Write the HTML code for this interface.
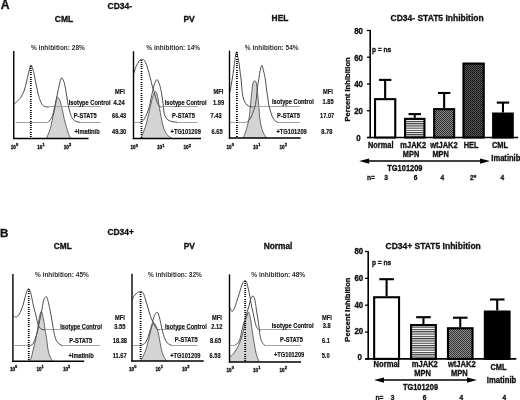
<!DOCTYPE html>
<html><head><meta charset="utf-8"><style>
html,body{margin:0;padding:0;background:#fff;width:520px;height:400px;overflow:hidden}
svg{display:block;filter:grayscale(1)}
text{font-family:"Liberation Sans",sans-serif;font-weight:bold;fill:#111;stroke:#111;stroke-width:0.3px}
.pi{stroke-width:0;fill:#2e2e2e}
.sm{stroke-width:0.15px}
</style></head><body>
<svg width="520" height="400" viewBox="0 0 520 400">
<defs>
<pattern id="hstripe" patternUnits="userSpaceOnUse" width="4" height="2.2"><rect width="4" height="2.2" fill="#fff"/><rect width="4" height="1.1" fill="#3a3a3a"/></pattern>
<pattern id="hstripe2" patternUnits="userSpaceOnUse" width="4" height="2.3"><rect width="4" height="2.3" fill="#fff"/><rect width="4" height="1.15" fill="#3a3a3a"/></pattern>
<pattern id="dots" patternUnits="userSpaceOnUse" width="2" height="2"><rect width="2" height="2" fill="#8c8c8c"/><rect width="1" height="1" fill="#2a2a2a"/><rect x="1" y="1" width="1" height="1" fill="#2a2a2a"/></pattern>
<pattern id="hatch" patternUnits="userSpaceOnUse" width="2" height="2"><rect width="2" height="2" fill="#555"/><rect width="1" height="1" fill="#111"/><rect x="1" y="1" width="1" height="1" fill="#222"/></pattern>
<pattern id="dots2" patternUnits="userSpaceOnUse" width="2" height="2"><rect width="2" height="2" fill="#929292"/><rect width="1" height="1" fill="#303030"/><rect x="1" y="1" width="1" height="1" fill="#303030"/></pattern>
</defs>
<text x="0.80" y="9.30" font-size="12.20">A</text>
<text x="107.50" y="8.70" font-size="8.50">CD34-</text>
<text x="54.80" y="21.70" font-size="8.50">CML</text>
<text x="183.40" y="22.00" font-size="8.60">PV</text>
<text x="271.60" y="21.20" font-size="8.40">HEL</text>
<text x="31.00" y="49.70" font-size="6.50" class="pi">% inhibition: 28%</text>
<text x="146.30" y="49.80" font-size="6.50" class="pi">% inhibition: 14%</text>
<text x="244.80" y="49.70" font-size="6.50" class="pi">% inhibition: 54%</text>
<text x="0.00" y="237.40" font-size="11.60">B</text>
<text x="107.50" y="234.90" font-size="8.40">CD34+</text>
<text x="53.80" y="249.10" font-size="8.30">CML</text>
<text x="183.70" y="249.10" font-size="8.40">PV</text>
<text x="263.70" y="249.10" font-size="8.35">Normal</text>
<text x="35.00" y="276.80" font-size="6.50" class="pi">% inhibition: 45%</text>
<text x="148.00" y="276.90" font-size="6.50" class="pi">% inhibition: 32%</text>
<text x="251.30" y="276.90" font-size="6.50" class="pi">% inhibition: 48%</text>
<path d="M46.50 138.40 C46.98 137.21 48.61 133.48 49.40 131.25 C50.19 129.02 50.63 127.50 51.25 125.00 C51.87 122.50 52.48 119.17 53.10 116.25 C53.73 113.33 54.48 110.12 55.00 107.50 C55.52 104.88 55.77 102.22 56.20 100.50 C56.63 98.78 56.93 97.03 57.60 97.20 C58.27 97.37 59.38 99.24 60.20 101.50 C61.02 103.76 61.80 107.75 62.50 110.75 C63.20 113.75 63.67 116.50 64.40 119.50 C65.13 122.50 66.18 126.27 66.90 128.75 C67.62 131.23 68.10 132.79 68.75 134.40 C69.40 136.01 70.46 137.73 70.80 138.40 L70.80 138.40 L46.50 138.40 Z" stroke="none" stroke-width="0.00" fill="#d4d4d4"/>
<path d="M46.50 138.40 C46.98 137.21 48.61 133.48 49.40 131.25 C50.19 129.02 50.63 127.50 51.25 125.00 C51.87 122.50 52.48 119.17 53.10 116.25 C53.73 113.33 54.48 110.12 55.00 107.50 C55.52 104.88 55.77 102.22 56.20 100.50 C56.63 98.78 56.93 97.03 57.60 97.20 C58.27 97.37 59.38 99.24 60.20 101.50 C61.02 103.76 61.80 107.75 62.50 110.75 C63.20 113.75 63.67 116.50 64.40 119.50 C65.13 122.50 66.18 126.27 66.90 128.75 C67.62 131.23 68.10 132.79 68.75 134.40 C69.40 136.01 70.46 137.73 70.80 138.40" stroke="#444" stroke-width="0.80" fill="none"/>
<path d="M14.40 103.80 C14.90 103.37 16.35 102.25 17.40 101.20 C18.45 100.15 19.53 99.37 20.70 97.50 C21.87 95.63 23.37 92.92 24.40 90.00 C25.43 87.08 26.10 83.25 26.90 80.00 C27.70 76.75 28.52 73.00 29.20 70.50 C29.88 68.00 30.24 64.67 31.00 65.00 C31.76 65.33 32.88 69.17 33.75 72.50 C34.62 75.83 35.42 81.04 36.25 85.00 C37.08 88.96 37.81 93.05 38.75 96.25 C39.69 99.45 40.86 102.48 41.90 104.20 C42.94 105.92 43.98 106.13 45.00 106.60 C46.02 107.07 47.33 106.93 48.00 107.00 C48.67 107.07 48.83 107.00 49.00 107.00" stroke="#4a4a4a" stroke-width="1.00" fill="none"/>
<line x1="49.00" y1="106.50" x2="100.60" y2="106.50" stroke="#a4a4a4" stroke-width="1.00"/>
<line x1="15.60" y1="122.50" x2="48.00" y2="122.50" stroke="#a4a4a4" stroke-width="1.00"/>
<path d="M48.00 122.30 C48.43 121.82 49.85 120.53 50.60 119.40 C51.35 118.27 51.87 117.36 52.50 115.50 C53.13 113.64 53.77 110.92 54.40 108.25 C55.02 105.58 55.63 102.42 56.25 99.50 C56.87 96.58 57.48 93.67 58.10 90.75 C58.73 87.83 59.37 84.16 60.00 82.00 C60.63 79.84 61.17 77.59 61.90 77.80 C62.63 78.01 63.68 80.67 64.40 83.25 C65.12 85.83 65.63 89.71 66.25 93.25 C66.87 96.79 67.47 101.29 68.10 104.50 C68.72 107.71 69.37 110.33 70.00 112.50 C70.63 114.67 71.17 116.15 71.90 117.50 C72.63 118.85 73.47 119.87 74.40 120.60 C75.33 121.33 76.57 121.62 77.50 121.90 C78.43 122.18 79.58 122.23 80.00 122.30" stroke="#4a4a4a" stroke-width="1.00" fill="none"/>
<line x1="80.00" y1="122.50" x2="100.60" y2="122.50" stroke="#a4a4a4" stroke-width="1.00"/>
<rect x="29.90" y="66" width="1.8" height="1" fill="#000"/>
<rect x="29.90" y="68" width="1.8" height="1" fill="#000"/>
<rect x="29.90" y="70" width="1.8" height="1" fill="#000"/>
<rect x="29.90" y="72" width="1.8" height="1" fill="#000"/>
<rect x="29.90" y="74" width="1.8" height="1" fill="#000"/>
<rect x="29.90" y="77" width="1.8" height="1" fill="#000"/>
<rect x="29.90" y="79" width="1.8" height="1" fill="#000"/>
<rect x="29.90" y="81" width="1.8" height="1" fill="#000"/>
<rect x="29.90" y="83" width="1.8" height="1" fill="#000"/>
<rect x="29.90" y="85" width="1.8" height="1" fill="#000"/>
<rect x="29.90" y="88" width="1.8" height="1" fill="#000"/>
<rect x="29.90" y="90" width="1.8" height="1" fill="#000"/>
<rect x="29.90" y="92" width="1.8" height="1" fill="#000"/>
<rect x="29.90" y="94" width="1.8" height="1" fill="#000"/>
<rect x="29.90" y="96" width="1.8" height="1" fill="#000"/>
<rect x="29.90" y="99" width="1.8" height="1" fill="#000"/>
<rect x="29.90" y="101" width="1.8" height="1" fill="#000"/>
<rect x="29.90" y="103" width="1.8" height="1" fill="#000"/>
<rect x="29.90" y="105" width="1.8" height="1" fill="#000"/>
<rect x="29.90" y="107" width="1.8" height="1" fill="#000"/>
<rect x="29.90" y="110" width="1.8" height="1" fill="#000"/>
<rect x="29.90" y="112" width="1.8" height="1" fill="#000"/>
<rect x="29.90" y="114" width="1.8" height="1" fill="#000"/>
<rect x="29.90" y="116" width="1.8" height="1" fill="#000"/>
<rect x="29.90" y="118" width="1.8" height="1" fill="#000"/>
<rect x="29.90" y="121" width="1.8" height="1" fill="#000"/>
<rect x="29.90" y="123" width="1.8" height="1" fill="#000"/>
<rect x="29.90" y="125" width="1.8" height="1" fill="#000"/>
<rect x="29.90" y="127" width="1.8" height="1" fill="#000"/>
<rect x="29.90" y="129" width="1.8" height="1" fill="#000"/>
<rect x="29.90" y="132" width="1.8" height="1" fill="#000"/>
<rect x="29.90" y="134" width="1.8" height="1" fill="#000"/>
<rect x="29.90" y="136" width="1.8" height="1" fill="#000"/>
<line x1="13.75" y1="51.00" x2="13.75" y2="139.10" stroke="#000" stroke-width="1.40"/>
<line x1="13.05" y1="138.40" x2="88.60" y2="138.40" stroke="#000" stroke-width="1.50"/>
<text x="10.75" y="149.10" font-size="4.60">10</text>
<text x="15.95" y="146.40" font-size="4.00">0</text>
<text x="37.25" y="149.10" font-size="4.60">10</text>
<text x="42.45" y="146.40" font-size="4.00">1</text>
<text x="63.75" y="149.10" font-size="4.60">10</text>
<text x="68.95" y="146.40" font-size="4.00">2</text>
<path d="M140.60 138.50 C141.12 137.29 142.81 133.71 143.75 131.25 C144.69 128.79 145.42 126.67 146.25 123.75 C147.08 120.83 147.92 117.29 148.75 113.75 C149.58 110.21 150.50 105.54 151.25 102.50 C152.00 99.46 152.54 97.33 153.25 95.50 C153.96 93.67 154.78 91.33 155.50 91.50 C156.22 91.67 156.95 93.83 157.60 96.50 C158.25 99.17 158.79 104.00 159.40 107.50 C160.01 111.00 160.63 114.38 161.25 117.50 C161.87 120.62 162.38 123.75 163.10 126.25 C163.82 128.75 164.66 130.83 165.60 132.50 C166.54 134.17 167.60 135.25 168.75 136.25 C169.90 137.25 171.88 138.12 172.50 138.50 L172.50 138.50 L140.60 138.50 Z" stroke="none" stroke-width="0.00" fill="#d4d4d4"/>
<path d="M140.60 138.50 C141.12 137.29 142.81 133.71 143.75 131.25 C144.69 128.79 145.42 126.67 146.25 123.75 C147.08 120.83 147.92 117.29 148.75 113.75 C149.58 110.21 150.50 105.54 151.25 102.50 C152.00 99.46 152.54 97.33 153.25 95.50 C153.96 93.67 154.78 91.33 155.50 91.50 C156.22 91.67 156.95 93.83 157.60 96.50 C158.25 99.17 158.79 104.00 159.40 107.50 C160.01 111.00 160.63 114.38 161.25 117.50 C161.87 120.62 162.38 123.75 163.10 126.25 C163.82 128.75 164.66 130.83 165.60 132.50 C166.54 134.17 167.60 135.25 168.75 136.25 C169.90 137.25 171.88 138.12 172.50 138.50" stroke="#444" stroke-width="0.80" fill="none"/>
<path d="M134.20 73.10 C134.35 72.38 134.53 70.31 135.10 68.75 C135.67 67.19 136.77 65.21 137.60 63.75 C138.43 62.29 139.32 60.76 140.10 60.00 C140.88 59.24 141.52 59.10 142.25 59.20 C142.98 59.30 143.71 59.43 144.50 60.60 C145.29 61.77 146.17 63.85 147.00 66.25 C147.83 68.65 148.67 71.88 149.50 75.00 C150.33 78.12 151.27 82.29 152.00 85.00 C152.73 87.71 153.30 89.17 153.90 91.25 C154.50 93.33 155.08 95.74 155.60 97.50 C156.12 99.26 156.55 100.58 157.00 101.80 C157.45 103.02 157.87 104.03 158.30 104.80 C158.73 105.57 159.15 106.05 159.60 106.40 C160.05 106.75 160.60 106.82 161.00 106.90 C161.40 106.98 161.83 106.90 162.00 106.90" stroke="#4a4a4a" stroke-width="1.00" fill="none"/>
<line x1="162.00" y1="106.50" x2="197.50" y2="106.50" stroke="#a4a4a4" stroke-width="1.00"/>
<line x1="134.40" y1="122.50" x2="141.25" y2="122.50" stroke="#a4a4a4" stroke-width="1.00"/>
<path d="M141.25 122.20 C141.78 121.62 143.46 120.16 144.40 118.75 C145.34 117.34 146.07 115.83 146.90 113.75 C147.73 111.67 148.76 108.54 149.40 106.25 C150.04 103.96 150.22 102.50 150.75 100.00 C151.28 97.50 151.97 93.96 152.60 91.25 C153.22 88.54 153.77 85.69 154.50 83.75 C155.23 81.81 156.17 79.49 157.00 79.60 C157.83 79.71 158.77 82.25 159.50 84.40 C160.23 86.55 160.88 89.90 161.40 92.50 C161.92 95.10 162.25 97.50 162.60 100.00 C162.95 102.50 163.23 105.25 163.50 107.50 C163.77 109.75 163.73 111.70 164.20 113.50 C164.67 115.30 165.28 117.02 166.30 118.30 C167.32 119.58 168.52 120.55 170.30 121.20 C172.08 121.85 175.88 122.03 177.00 122.20" stroke="#4a4a4a" stroke-width="1.00" fill="none"/>
<line x1="177.00" y1="122.50" x2="197.50" y2="122.50" stroke="#a4a4a4" stroke-width="1.00"/>
<rect x="140.60" y="60" width="1.8" height="1" fill="#000"/>
<rect x="140.60" y="62" width="1.8" height="1" fill="#000"/>
<rect x="140.60" y="64" width="1.8" height="1" fill="#000"/>
<rect x="140.60" y="66" width="1.8" height="1" fill="#000"/>
<rect x="140.60" y="68" width="1.8" height="1" fill="#000"/>
<rect x="140.60" y="71" width="1.8" height="1" fill="#000"/>
<rect x="140.60" y="73" width="1.8" height="1" fill="#000"/>
<rect x="140.60" y="75" width="1.8" height="1" fill="#000"/>
<rect x="140.60" y="77" width="1.8" height="1" fill="#000"/>
<rect x="140.60" y="79" width="1.8" height="1" fill="#000"/>
<rect x="140.60" y="82" width="1.8" height="1" fill="#000"/>
<rect x="140.60" y="84" width="1.8" height="1" fill="#000"/>
<rect x="140.60" y="86" width="1.8" height="1" fill="#000"/>
<rect x="140.60" y="88" width="1.8" height="1" fill="#000"/>
<rect x="140.60" y="90" width="1.8" height="1" fill="#000"/>
<rect x="140.60" y="93" width="1.8" height="1" fill="#000"/>
<rect x="140.60" y="95" width="1.8" height="1" fill="#000"/>
<rect x="140.60" y="97" width="1.8" height="1" fill="#000"/>
<rect x="140.60" y="99" width="1.8" height="1" fill="#000"/>
<rect x="140.60" y="101" width="1.8" height="1" fill="#000"/>
<rect x="140.60" y="104" width="1.8" height="1" fill="#000"/>
<rect x="140.60" y="106" width="1.8" height="1" fill="#000"/>
<rect x="140.60" y="108" width="1.8" height="1" fill="#000"/>
<rect x="140.60" y="110" width="1.8" height="1" fill="#000"/>
<rect x="140.60" y="112" width="1.8" height="1" fill="#000"/>
<rect x="140.60" y="115" width="1.8" height="1" fill="#000"/>
<rect x="140.60" y="117" width="1.8" height="1" fill="#000"/>
<rect x="140.60" y="119" width="1.8" height="1" fill="#000"/>
<rect x="140.60" y="121" width="1.8" height="1" fill="#000"/>
<rect x="140.60" y="123" width="1.8" height="1" fill="#000"/>
<rect x="140.60" y="126" width="1.8" height="1" fill="#000"/>
<rect x="140.60" y="128" width="1.8" height="1" fill="#000"/>
<rect x="140.60" y="130" width="1.8" height="1" fill="#000"/>
<rect x="140.60" y="132" width="1.8" height="1" fill="#000"/>
<rect x="140.60" y="134" width="1.8" height="1" fill="#000"/>
<rect x="140.60" y="137" width="1.8" height="1" fill="#000"/>
<line x1="133.50" y1="51.25" x2="133.50" y2="139.20" stroke="#000" stroke-width="1.40"/>
<line x1="132.80" y1="138.50" x2="201.00" y2="138.50" stroke="#000" stroke-width="1.50"/>
<text x="130.50" y="149.20" font-size="4.60">10</text>
<text x="135.70" y="146.50" font-size="4.00">0</text>
<text x="157.00" y="149.20" font-size="4.60">10</text>
<text x="162.20" y="146.50" font-size="4.00">1</text>
<text x="183.50" y="149.20" font-size="4.60">10</text>
<text x="188.70" y="146.50" font-size="4.00">2</text>
<path d="M243.10 138.10 C243.50 137.08 244.78 134.06 245.50 132.00 C246.22 129.94 246.78 128.25 247.40 125.75 C248.03 123.25 248.73 120.46 249.25 117.00 C249.77 113.54 250.17 108.25 250.50 105.00 C250.83 101.75 251.00 100.00 251.25 97.50 C251.50 95.00 251.78 92.08 252.00 90.00 C252.22 87.92 252.38 86.33 252.60 85.00 C252.82 83.67 252.97 82.70 253.30 82.00 C253.63 81.30 254.15 80.80 254.60 80.80 C255.05 80.80 255.65 81.30 256.00 82.00 C256.35 82.70 256.49 83.67 256.70 85.00 C256.91 86.33 257.03 87.92 257.25 90.00 C257.47 92.08 257.73 94.67 258.00 97.50 C258.27 100.33 258.63 103.75 258.90 107.00 C259.17 110.25 259.23 113.88 259.60 117.00 C259.97 120.12 260.53 123.25 261.10 125.75 C261.67 128.25 262.37 130.33 263.00 132.00 C263.63 133.67 264.35 134.73 264.90 135.75 C265.45 136.77 266.07 137.71 266.30 138.10 L266.30 138.10 L243.10 138.10 Z" stroke="none" stroke-width="0.00" fill="#d4d4d4"/>
<path d="M243.10 138.10 C243.50 137.08 244.78 134.06 245.50 132.00 C246.22 129.94 246.78 128.25 247.40 125.75 C248.03 123.25 248.73 120.46 249.25 117.00 C249.77 113.54 250.17 108.25 250.50 105.00 C250.83 101.75 251.00 100.00 251.25 97.50 C251.50 95.00 251.78 92.08 252.00 90.00 C252.22 87.92 252.38 86.33 252.60 85.00 C252.82 83.67 252.97 82.70 253.30 82.00 C253.63 81.30 254.15 80.80 254.60 80.80 C255.05 80.80 255.65 81.30 256.00 82.00 C256.35 82.70 256.49 83.67 256.70 85.00 C256.91 86.33 257.03 87.92 257.25 90.00 C257.47 92.08 257.73 94.67 258.00 97.50 C258.27 100.33 258.63 103.75 258.90 107.00 C259.17 110.25 259.23 113.88 259.60 117.00 C259.97 120.12 260.53 123.25 261.10 125.75 C261.67 128.25 262.37 130.33 263.00 132.00 C263.63 133.67 264.35 134.73 264.90 135.75 C265.45 136.77 266.07 137.71 266.30 138.10" stroke="#444" stroke-width="0.80" fill="none"/>
<path d="M230.25 91.75 C230.39 90.71 230.74 87.79 231.10 85.50 C231.46 83.21 232.07 80.02 232.40 78.00 C232.73 75.98 232.82 75.40 233.10 73.40 C233.38 71.40 233.82 68.12 234.10 66.00 C234.38 63.88 234.55 62.53 234.80 60.70 C235.05 58.87 235.32 56.52 235.60 55.00 C235.88 53.48 236.20 51.60 236.50 51.60 C236.80 51.60 237.05 53.48 237.40 55.00 C237.75 56.52 238.27 58.87 238.60 60.70 C238.93 62.53 239.12 63.88 239.40 66.00 C239.68 68.12 240.00 71.07 240.30 73.40 C240.60 75.73 240.96 77.78 241.20 80.00 C241.44 82.22 241.55 84.46 241.75 86.75 C241.95 89.04 242.09 91.71 242.40 93.75 C242.71 95.79 243.17 97.54 243.60 99.00 C244.03 100.46 244.43 101.50 245.00 102.50 C245.57 103.50 246.18 104.32 247.00 105.00 C247.82 105.68 249.07 106.27 249.90 106.60 C250.73 106.93 251.48 106.93 252.00 107.00 C252.52 107.07 252.83 107.00 253.00 107.00" stroke="#4a4a4a" stroke-width="1.00" fill="none"/>
<line x1="253.00" y1="106.50" x2="300.30" y2="106.50" stroke="#a4a4a4" stroke-width="1.00"/>
<line x1="230.50" y1="122.50" x2="246.75" y2="122.50" stroke="#a4a4a4" stroke-width="1.00"/>
<path d="M246.75 122.25 C247.17 121.89 248.42 121.18 249.25 120.10 C250.08 119.02 251.03 117.31 251.75 115.75 C252.47 114.19 252.97 112.62 253.60 110.75 C254.22 108.88 255.00 106.96 255.50 104.50 C256.00 102.04 256.25 99.04 256.60 96.00 C256.95 92.96 257.22 89.17 257.60 86.25 C257.98 83.33 258.48 81.08 258.90 78.50 C259.32 75.92 259.62 72.97 260.10 70.80 C260.58 68.63 261.23 65.50 261.80 65.50 C262.37 65.50 262.93 68.63 263.50 70.80 C264.07 72.97 264.68 75.30 265.20 78.50 C265.72 81.70 266.18 86.83 266.60 90.00 C267.03 93.17 267.42 95.17 267.75 97.50 C268.08 99.83 268.29 102.25 268.60 104.00 C268.91 105.75 269.16 106.38 269.60 108.00 C270.04 109.62 270.56 111.85 271.25 113.75 C271.94 115.65 272.71 117.98 273.75 119.40 C274.79 120.82 276.62 121.78 277.50 122.25 C278.38 122.72 278.75 122.25 279.00 122.25" stroke="#4a4a4a" stroke-width="1.00" fill="none"/>
<line x1="279.00" y1="122.50" x2="300.30" y2="122.50" stroke="#a4a4a4" stroke-width="1.00"/>
<rect x="236.00" y="52" width="1.8" height="1" fill="#000"/>
<rect x="236.00" y="54" width="1.8" height="1" fill="#000"/>
<rect x="236.00" y="56" width="1.8" height="1" fill="#000"/>
<rect x="236.00" y="59" width="1.8" height="1" fill="#000"/>
<rect x="236.00" y="61" width="1.8" height="1" fill="#000"/>
<rect x="236.00" y="63" width="1.8" height="1" fill="#000"/>
<rect x="236.00" y="65" width="1.8" height="1" fill="#000"/>
<rect x="236.00" y="67" width="1.8" height="1" fill="#000"/>
<rect x="236.00" y="70" width="1.8" height="1" fill="#000"/>
<rect x="236.00" y="72" width="1.8" height="1" fill="#000"/>
<rect x="236.00" y="74" width="1.8" height="1" fill="#000"/>
<rect x="236.00" y="76" width="1.8" height="1" fill="#000"/>
<rect x="236.00" y="78" width="1.8" height="1" fill="#000"/>
<rect x="236.00" y="81" width="1.8" height="1" fill="#000"/>
<rect x="236.00" y="83" width="1.8" height="1" fill="#000"/>
<rect x="236.00" y="85" width="1.8" height="1" fill="#000"/>
<rect x="236.00" y="87" width="1.8" height="1" fill="#000"/>
<rect x="236.00" y="89" width="1.8" height="1" fill="#000"/>
<rect x="236.00" y="92" width="1.8" height="1" fill="#000"/>
<rect x="236.00" y="94" width="1.8" height="1" fill="#000"/>
<rect x="236.00" y="96" width="1.8" height="1" fill="#000"/>
<rect x="236.00" y="98" width="1.8" height="1" fill="#000"/>
<rect x="236.00" y="100" width="1.8" height="1" fill="#000"/>
<rect x="236.00" y="103" width="1.8" height="1" fill="#000"/>
<rect x="236.00" y="105" width="1.8" height="1" fill="#000"/>
<rect x="236.00" y="107" width="1.8" height="1" fill="#000"/>
<rect x="236.00" y="109" width="1.8" height="1" fill="#000"/>
<rect x="236.00" y="111" width="1.8" height="1" fill="#000"/>
<rect x="236.00" y="114" width="1.8" height="1" fill="#000"/>
<rect x="236.00" y="116" width="1.8" height="1" fill="#000"/>
<rect x="236.00" y="118" width="1.8" height="1" fill="#000"/>
<rect x="236.00" y="120" width="1.8" height="1" fill="#000"/>
<rect x="236.00" y="122" width="1.8" height="1" fill="#000"/>
<rect x="236.00" y="125" width="1.8" height="1" fill="#000"/>
<rect x="236.00" y="127" width="1.8" height="1" fill="#000"/>
<rect x="236.00" y="129" width="1.8" height="1" fill="#000"/>
<rect x="236.00" y="131" width="1.8" height="1" fill="#000"/>
<rect x="236.00" y="133" width="1.8" height="1" fill="#000"/>
<rect x="236.00" y="136" width="1.8" height="1" fill="#000"/>
<line x1="229.50" y1="50.60" x2="229.50" y2="138.80" stroke="#000" stroke-width="1.40"/>
<line x1="228.80" y1="138.10" x2="300.60" y2="138.10" stroke="#000" stroke-width="1.50"/>
<text x="226.50" y="148.80" font-size="4.60">10</text>
<text x="231.70" y="146.10" font-size="4.00">0</text>
<text x="253.00" y="148.80" font-size="4.60">10</text>
<text x="258.20" y="146.10" font-size="4.00">1</text>
<text x="279.50" y="148.80" font-size="4.60">10</text>
<text x="284.70" y="146.10" font-size="4.00">2</text>
<path d="M29.00 361.30 C29.42 360.58 30.82 358.88 31.50 357.00 C32.18 355.12 32.52 352.50 33.10 350.00 C33.68 347.50 34.43 344.50 35.00 342.00 C35.57 339.50 36.08 337.00 36.50 335.00 C36.92 333.00 37.15 332.17 37.50 330.00 C37.85 327.83 38.23 324.33 38.60 322.00 C38.97 319.67 39.26 317.77 39.70 316.00 C40.14 314.23 40.73 311.40 41.25 311.40 C41.77 311.40 42.34 314.23 42.80 316.00 C43.26 317.77 43.63 319.83 44.00 322.00 C44.37 324.17 44.70 327.00 45.00 329.00 C45.30 331.00 45.50 332.17 45.80 334.00 C46.10 335.83 46.42 337.33 46.80 340.00 C47.18 342.67 47.57 347.25 48.10 350.00 C48.63 352.75 49.23 354.62 50.00 356.50 C50.77 358.38 52.25 360.50 52.70 361.30 L52.70 361.30 L29.00 361.30 Z" stroke="none" stroke-width="0.00" fill="#d4d4d4"/>
<path d="M29.00 361.30 C29.42 360.58 30.82 358.88 31.50 357.00 C32.18 355.12 32.52 352.50 33.10 350.00 C33.68 347.50 34.43 344.50 35.00 342.00 C35.57 339.50 36.08 337.00 36.50 335.00 C36.92 333.00 37.15 332.17 37.50 330.00 C37.85 327.83 38.23 324.33 38.60 322.00 C38.97 319.67 39.26 317.77 39.70 316.00 C40.14 314.23 40.73 311.40 41.25 311.40 C41.77 311.40 42.34 314.23 42.80 316.00 C43.26 317.77 43.63 319.83 44.00 322.00 C44.37 324.17 44.70 327.00 45.00 329.00 C45.30 331.00 45.50 332.17 45.80 334.00 C46.10 335.83 46.42 337.33 46.80 340.00 C47.18 342.67 47.57 347.25 48.10 350.00 C48.63 352.75 49.23 354.62 50.00 356.50 C50.77 358.38 52.25 360.50 52.70 361.30" stroke="#444" stroke-width="0.80" fill="none"/>
<path d="M13.60 315.60 C13.93 315.87 14.74 317.30 15.60 317.20 C16.46 317.10 17.81 316.20 18.75 315.00 C19.69 313.80 20.52 311.67 21.25 310.00 C21.98 308.33 22.48 307.08 23.10 305.00 C23.73 302.92 24.37 299.79 25.00 297.50 C25.63 295.21 26.32 292.70 26.90 291.25 C27.48 289.80 27.88 288.59 28.50 288.80 C29.12 289.01 29.93 290.43 30.60 292.50 C31.27 294.57 31.87 298.33 32.50 301.25 C33.13 304.17 33.88 307.88 34.40 310.00 C34.92 312.12 35.08 311.92 35.60 314.00 C36.12 316.08 36.87 320.30 37.50 322.50 C38.13 324.70 38.67 326.05 39.40 327.20 C40.13 328.35 41.13 328.97 41.90 329.40 C42.67 329.82 43.48 329.69 44.00 329.75 C44.52 329.81 44.83 329.75 45.00 329.75" stroke="#4a4a4a" stroke-width="1.00" fill="none"/>
<line x1="45.00" y1="329.50" x2="100.00" y2="329.50" stroke="#a4a4a4" stroke-width="1.00"/>
<line x1="14.00" y1="345.50" x2="30.20" y2="345.50" stroke="#a4a4a4" stroke-width="1.00"/>
<path d="M30.20 345.50 C30.58 345.32 31.80 345.22 32.50 344.40 C33.20 343.58 33.67 342.38 34.40 340.60 C35.13 338.83 36.17 336.35 36.90 333.75 C37.62 331.15 38.13 327.92 38.75 325.00 C39.37 322.08 39.98 319.38 40.60 316.25 C41.23 313.12 41.98 308.96 42.50 306.25 C43.02 303.54 43.12 301.61 43.75 300.00 C44.38 298.39 45.52 296.39 46.25 296.60 C46.98 296.81 47.48 299.02 48.10 301.25 C48.73 303.48 49.37 306.88 50.00 310.00 C50.63 313.12 51.27 316.46 51.90 320.00 C52.52 323.54 53.13 328.12 53.75 331.25 C54.37 334.38 54.88 336.77 55.60 338.75 C56.33 340.73 57.16 342.03 58.10 343.10 C59.04 344.18 60.43 344.80 61.25 345.20 C62.07 345.60 62.71 345.45 63.00 345.50" stroke="#4a4a4a" stroke-width="1.00" fill="none"/>
<line x1="63.00" y1="345.50" x2="100.00" y2="345.50" stroke="#a4a4a4" stroke-width="1.00"/>
<rect x="27.85" y="289" width="1.8" height="1" fill="#000"/>
<rect x="27.85" y="291" width="1.8" height="1" fill="#000"/>
<rect x="27.85" y="293" width="1.8" height="1" fill="#000"/>
<rect x="27.85" y="296" width="1.8" height="1" fill="#000"/>
<rect x="27.85" y="298" width="1.8" height="1" fill="#000"/>
<rect x="27.85" y="300" width="1.8" height="1" fill="#000"/>
<rect x="27.85" y="302" width="1.8" height="1" fill="#000"/>
<rect x="27.85" y="304" width="1.8" height="1" fill="#000"/>
<rect x="27.85" y="307" width="1.8" height="1" fill="#000"/>
<rect x="27.85" y="309" width="1.8" height="1" fill="#000"/>
<rect x="27.85" y="311" width="1.8" height="1" fill="#000"/>
<rect x="27.85" y="313" width="1.8" height="1" fill="#000"/>
<rect x="27.85" y="315" width="1.8" height="1" fill="#000"/>
<rect x="27.85" y="318" width="1.8" height="1" fill="#000"/>
<rect x="27.85" y="320" width="1.8" height="1" fill="#000"/>
<rect x="27.85" y="322" width="1.8" height="1" fill="#000"/>
<rect x="27.85" y="324" width="1.8" height="1" fill="#000"/>
<rect x="27.85" y="326" width="1.8" height="1" fill="#000"/>
<rect x="27.85" y="329" width="1.8" height="1" fill="#000"/>
<rect x="27.85" y="331" width="1.8" height="1" fill="#000"/>
<rect x="27.85" y="333" width="1.8" height="1" fill="#000"/>
<rect x="27.85" y="335" width="1.8" height="1" fill="#000"/>
<rect x="27.85" y="337" width="1.8" height="1" fill="#000"/>
<rect x="27.85" y="340" width="1.8" height="1" fill="#000"/>
<rect x="27.85" y="342" width="1.8" height="1" fill="#000"/>
<rect x="27.85" y="344" width="1.8" height="1" fill="#000"/>
<rect x="27.85" y="346" width="1.8" height="1" fill="#000"/>
<rect x="27.85" y="348" width="1.8" height="1" fill="#000"/>
<rect x="27.85" y="351" width="1.8" height="1" fill="#000"/>
<rect x="27.85" y="353" width="1.8" height="1" fill="#000"/>
<rect x="27.85" y="355" width="1.8" height="1" fill="#000"/>
<rect x="27.85" y="357" width="1.8" height="1" fill="#000"/>
<rect x="27.85" y="359" width="1.8" height="1" fill="#000"/>
<line x1="12.90" y1="274.00" x2="12.90" y2="362.00" stroke="#000" stroke-width="1.40"/>
<line x1="12.20" y1="361.30" x2="84.20" y2="361.30" stroke="#000" stroke-width="1.50"/>
<text x="9.90" y="371.30" font-size="4.60">10</text>
<text x="15.10" y="368.30" font-size="4.00">0</text>
<text x="36.40" y="371.30" font-size="4.60">10</text>
<text x="41.60" y="368.30" font-size="4.00">1</text>
<text x="62.90" y="371.30" font-size="4.60">10</text>
<text x="68.10" y="368.30" font-size="4.00">2</text>
<path d="M140.60 360.90 C141.12 359.92 142.81 357.02 143.75 355.00 C144.69 352.98 145.53 350.93 146.25 348.75 C146.97 346.57 147.47 344.40 148.10 341.90 C148.72 339.40 149.37 336.36 150.00 333.75 C150.63 331.14 151.28 328.02 151.90 326.25 C152.53 324.48 153.13 323.31 153.75 323.10 C154.37 322.89 154.97 323.85 155.60 325.00 C156.22 326.15 156.87 327.71 157.50 330.00 C158.13 332.29 158.78 335.62 159.40 338.75 C160.03 341.88 160.63 346.04 161.25 348.75 C161.87 351.46 162.38 353.23 163.10 355.00 C163.82 356.77 164.98 358.42 165.60 359.40 C166.22 360.38 166.60 360.65 166.80 360.90 L166.80 360.90 L140.60 360.90 Z" stroke="none" stroke-width="0.00" fill="#d4d4d4"/>
<path d="M140.60 360.90 C141.12 359.92 142.81 357.02 143.75 355.00 C144.69 352.98 145.53 350.93 146.25 348.75 C146.97 346.57 147.47 344.40 148.10 341.90 C148.72 339.40 149.37 336.36 150.00 333.75 C150.63 331.14 151.28 328.02 151.90 326.25 C152.53 324.48 153.13 323.31 153.75 323.10 C154.37 322.89 154.97 323.85 155.60 325.00 C156.22 326.15 156.87 327.71 157.50 330.00 C158.13 332.29 158.78 335.62 159.40 338.75 C160.03 341.88 160.63 346.04 161.25 348.75 C161.87 351.46 162.38 353.23 163.10 355.00 C163.82 356.77 164.98 358.42 165.60 359.40 C166.22 360.38 166.60 360.65 166.80 360.90" stroke="#444" stroke-width="0.80" fill="none"/>
<path d="M132.60 299.40 C132.79 298.88 133.14 297.19 133.75 296.25 C134.36 295.31 135.42 294.48 136.25 293.75 C137.08 293.02 138.03 292.26 138.75 291.90 C139.47 291.54 139.92 291.50 140.60 291.60 C141.28 291.70 142.13 291.68 142.80 292.50 C143.47 293.32 144.03 294.92 144.60 296.50 C145.17 298.08 145.63 300.08 146.20 302.00 C146.77 303.92 147.40 306.00 148.00 308.00 C148.60 310.00 149.20 312.17 149.80 314.00 C150.40 315.83 151.00 317.50 151.60 319.00 C152.20 320.50 152.73 321.58 153.40 323.00 C154.07 324.42 154.92 326.42 155.60 327.50 C156.28 328.58 156.93 329.12 157.50 329.50 C158.07 329.88 158.58 329.71 159.00 329.75 C159.42 329.79 159.83 329.75 160.00 329.75" stroke="#4a4a4a" stroke-width="1.00" fill="none"/>
<line x1="160.00" y1="329.50" x2="197.50" y2="329.50" stroke="#a4a4a4" stroke-width="1.00"/>
<line x1="132.80" y1="345.50" x2="140.60" y2="345.50" stroke="#a4a4a4" stroke-width="1.00"/>
<path d="M140.60 345.20 C141.23 344.96 143.35 344.62 144.40 343.75 C145.45 342.88 146.18 341.46 146.90 340.00 C147.62 338.54 148.13 336.88 148.75 335.00 C149.37 333.12 149.97 330.83 150.60 328.75 C151.22 326.67 151.97 324.38 152.50 322.50 C153.03 320.62 153.33 318.83 153.75 317.50 C154.17 316.17 154.47 315.38 155.00 314.50 C155.53 313.62 156.28 312.12 156.90 312.20 C157.53 312.28 158.13 313.28 158.75 315.00 C159.37 316.72 159.97 319.79 160.60 322.50 C161.22 325.21 161.87 328.75 162.50 331.25 C163.13 333.75 163.67 335.62 164.40 337.50 C165.13 339.38 165.87 341.25 166.90 342.50 C167.93 343.75 169.75 344.55 170.60 345.00 C171.45 345.45 171.77 345.17 172.00 345.20" stroke="#4a4a4a" stroke-width="1.00" fill="none"/>
<line x1="172.00" y1="345.50" x2="197.50" y2="345.50" stroke="#a4a4a4" stroke-width="1.00"/>
<rect x="139.70" y="292" width="1.8" height="1" fill="#000"/>
<rect x="139.70" y="294" width="1.8" height="1" fill="#000"/>
<rect x="139.70" y="296" width="1.8" height="1" fill="#000"/>
<rect x="139.70" y="299" width="1.8" height="1" fill="#000"/>
<rect x="139.70" y="301" width="1.8" height="1" fill="#000"/>
<rect x="139.70" y="303" width="1.8" height="1" fill="#000"/>
<rect x="139.70" y="305" width="1.8" height="1" fill="#000"/>
<rect x="139.70" y="307" width="1.8" height="1" fill="#000"/>
<rect x="139.70" y="310" width="1.8" height="1" fill="#000"/>
<rect x="139.70" y="312" width="1.8" height="1" fill="#000"/>
<rect x="139.70" y="314" width="1.8" height="1" fill="#000"/>
<rect x="139.70" y="316" width="1.8" height="1" fill="#000"/>
<rect x="139.70" y="318" width="1.8" height="1" fill="#000"/>
<rect x="139.70" y="321" width="1.8" height="1" fill="#000"/>
<rect x="139.70" y="323" width="1.8" height="1" fill="#000"/>
<rect x="139.70" y="325" width="1.8" height="1" fill="#000"/>
<rect x="139.70" y="327" width="1.8" height="1" fill="#000"/>
<rect x="139.70" y="329" width="1.8" height="1" fill="#000"/>
<rect x="139.70" y="332" width="1.8" height="1" fill="#000"/>
<rect x="139.70" y="334" width="1.8" height="1" fill="#000"/>
<rect x="139.70" y="336" width="1.8" height="1" fill="#000"/>
<rect x="139.70" y="338" width="1.8" height="1" fill="#000"/>
<rect x="139.70" y="340" width="1.8" height="1" fill="#000"/>
<rect x="139.70" y="343" width="1.8" height="1" fill="#000"/>
<rect x="139.70" y="345" width="1.8" height="1" fill="#000"/>
<rect x="139.70" y="347" width="1.8" height="1" fill="#000"/>
<rect x="139.70" y="349" width="1.8" height="1" fill="#000"/>
<rect x="139.70" y="351" width="1.8" height="1" fill="#000"/>
<rect x="139.70" y="354" width="1.8" height="1" fill="#000"/>
<rect x="139.70" y="356" width="1.8" height="1" fill="#000"/>
<rect x="139.70" y="358" width="1.8" height="1" fill="#000"/>
<line x1="132.00" y1="273.75" x2="132.00" y2="361.60" stroke="#000" stroke-width="1.40"/>
<line x1="131.30" y1="360.90" x2="203.75" y2="360.90" stroke="#000" stroke-width="1.50"/>
<text x="129.00" y="370.90" font-size="4.60">10</text>
<text x="134.20" y="367.90" font-size="4.00">0</text>
<text x="155.50" y="370.90" font-size="4.60">10</text>
<text x="160.70" y="367.90" font-size="4.00">1</text>
<text x="182.00" y="370.90" font-size="4.60">10</text>
<text x="187.20" y="367.90" font-size="4.00">2</text>
<path d="M229.80 356.50 C230.17 356.33 231.30 356.08 232.00 355.50 C232.70 354.92 233.33 353.92 234.00 353.00 C234.67 352.08 235.33 351.08 236.00 350.00 C236.67 348.92 237.33 347.83 238.00 346.50 C238.67 345.17 239.33 343.75 240.00 342.00 C240.67 340.25 241.42 338.00 242.00 336.00 C242.58 334.00 243.00 332.25 243.50 330.00 C244.00 327.75 244.46 324.79 245.00 322.50 C245.54 320.21 246.15 317.97 246.75 316.25 C247.35 314.53 247.97 311.78 248.60 312.20 C249.22 312.62 249.97 316.20 250.50 318.75 C251.03 321.30 251.33 324.62 251.75 327.50 C252.17 330.38 252.54 333.08 253.00 336.00 C253.46 338.92 254.00 342.17 254.50 345.00 C255.00 347.83 255.42 350.67 256.00 353.00 C256.58 355.33 257.42 357.52 258.00 359.00 C258.58 360.48 259.25 361.42 259.50 361.90 L259.50 361.90 L229.80 361.90 Z" stroke="none" stroke-width="0.00" fill="#d4d4d4"/>
<path d="M229.80 356.50 C230.17 356.33 231.30 356.08 232.00 355.50 C232.70 354.92 233.33 353.92 234.00 353.00 C234.67 352.08 235.33 351.08 236.00 350.00 C236.67 348.92 237.33 347.83 238.00 346.50 C238.67 345.17 239.33 343.75 240.00 342.00 C240.67 340.25 241.42 338.00 242.00 336.00 C242.58 334.00 243.00 332.25 243.50 330.00 C244.00 327.75 244.46 324.79 245.00 322.50 C245.54 320.21 246.15 317.97 246.75 316.25 C247.35 314.53 247.97 311.78 248.60 312.20 C249.22 312.62 249.97 316.20 250.50 318.75 C251.03 321.30 251.33 324.62 251.75 327.50 C252.17 330.38 252.54 333.08 253.00 336.00 C253.46 338.92 254.00 342.17 254.50 345.00 C255.00 347.83 255.42 350.67 256.00 353.00 C256.58 355.33 257.42 357.52 258.00 359.00 C258.58 360.48 259.25 361.42 259.50 361.90" stroke="#444" stroke-width="0.80" fill="none"/>
<path d="M230.10 307.80 C230.38 308.38 231.06 311.14 231.75 311.30 C232.44 311.46 233.42 310.43 234.25 308.75 C235.08 307.07 235.92 303.75 236.75 301.25 C237.58 298.75 238.53 296.04 239.25 293.75 C239.97 291.46 240.47 289.38 241.10 287.50 C241.72 285.62 242.37 283.67 243.00 282.50 C243.63 281.33 244.28 280.50 244.90 280.50 C245.53 280.50 246.19 281.12 246.75 282.50 C247.31 283.88 247.72 286.46 248.25 288.75 C248.78 291.04 249.43 293.75 249.90 296.25 C250.38 298.75 250.58 301.04 251.10 303.75 C251.62 306.46 252.37 309.58 253.00 312.50 C253.63 315.42 254.28 318.75 254.90 321.25 C255.53 323.75 256.02 326.08 256.75 327.50 C257.48 328.92 258.54 329.38 259.25 329.75 C259.96 330.12 260.71 329.75 261.00 329.75" stroke="#4a4a4a" stroke-width="1.00" fill="none"/>
<line x1="261.00" y1="329.50" x2="301.00" y2="329.50" stroke="#a4a4a4" stroke-width="1.00"/>
<line x1="230.20" y1="345.50" x2="235.00" y2="345.50" stroke="#a4a4a4" stroke-width="1.00"/>
<path d="M235.00 345.30 C235.50 344.92 237.17 344.05 238.00 343.00 C238.83 341.95 239.38 340.96 240.00 339.00 C240.62 337.04 241.15 333.79 241.75 331.25 C242.35 328.71 242.97 326.04 243.60 323.75 C244.22 321.46 244.87 319.58 245.50 317.50 C246.13 315.42 246.78 313.33 247.40 311.25 C248.03 309.17 248.73 306.96 249.25 305.00 C249.77 303.04 249.88 301.02 250.50 299.50 C251.12 297.98 252.27 295.82 253.00 295.90 C253.73 295.98 254.38 298.07 254.90 300.00 C255.42 301.93 255.68 304.79 256.10 307.50 C256.52 310.21 256.98 313.54 257.40 316.25 C257.82 318.96 258.23 321.04 258.60 323.75 C258.97 326.46 259.18 329.79 259.60 332.50 C260.02 335.21 260.43 338.02 261.10 340.00 C261.77 341.98 262.95 343.52 263.60 344.40 C264.25 345.28 264.77 345.15 265.00 345.30" stroke="#4a4a4a" stroke-width="1.00" fill="none"/>
<line x1="265.00" y1="345.50" x2="301.00" y2="345.50" stroke="#a4a4a4" stroke-width="1.00"/>
<rect x="244.30" y="281" width="1.8" height="1" fill="#000"/>
<rect x="244.30" y="283" width="1.8" height="1" fill="#000"/>
<rect x="244.30" y="285" width="1.8" height="1" fill="#000"/>
<rect x="244.30" y="288" width="1.8" height="1" fill="#000"/>
<rect x="244.30" y="290" width="1.8" height="1" fill="#000"/>
<rect x="244.30" y="292" width="1.8" height="1" fill="#000"/>
<rect x="244.30" y="294" width="1.8" height="1" fill="#000"/>
<rect x="244.30" y="296" width="1.8" height="1" fill="#000"/>
<rect x="244.30" y="299" width="1.8" height="1" fill="#000"/>
<rect x="244.30" y="301" width="1.8" height="1" fill="#000"/>
<rect x="244.30" y="303" width="1.8" height="1" fill="#000"/>
<rect x="244.30" y="305" width="1.8" height="1" fill="#000"/>
<rect x="244.30" y="307" width="1.8" height="1" fill="#000"/>
<rect x="244.30" y="310" width="1.8" height="1" fill="#000"/>
<rect x="244.30" y="312" width="1.8" height="1" fill="#000"/>
<rect x="244.30" y="314" width="1.8" height="1" fill="#000"/>
<rect x="244.30" y="316" width="1.8" height="1" fill="#000"/>
<rect x="244.30" y="318" width="1.8" height="1" fill="#000"/>
<rect x="244.30" y="321" width="1.8" height="1" fill="#000"/>
<rect x="244.30" y="323" width="1.8" height="1" fill="#000"/>
<rect x="244.30" y="325" width="1.8" height="1" fill="#000"/>
<rect x="244.30" y="327" width="1.8" height="1" fill="#000"/>
<rect x="244.30" y="329" width="1.8" height="1" fill="#000"/>
<rect x="244.30" y="332" width="1.8" height="1" fill="#000"/>
<rect x="244.30" y="334" width="1.8" height="1" fill="#000"/>
<rect x="244.30" y="336" width="1.8" height="1" fill="#000"/>
<rect x="244.30" y="338" width="1.8" height="1" fill="#000"/>
<rect x="244.30" y="340" width="1.8" height="1" fill="#000"/>
<rect x="244.30" y="343" width="1.8" height="1" fill="#000"/>
<rect x="244.30" y="345" width="1.8" height="1" fill="#000"/>
<rect x="244.30" y="347" width="1.8" height="1" fill="#000"/>
<rect x="244.30" y="349" width="1.8" height="1" fill="#000"/>
<rect x="244.30" y="351" width="1.8" height="1" fill="#000"/>
<rect x="244.30" y="354" width="1.8" height="1" fill="#000"/>
<rect x="244.30" y="356" width="1.8" height="1" fill="#000"/>
<rect x="244.30" y="358" width="1.8" height="1" fill="#000"/>
<rect x="244.30" y="360" width="1.8" height="1" fill="#000"/>
<line x1="229.50" y1="274.40" x2="229.50" y2="362.60" stroke="#000" stroke-width="1.40"/>
<line x1="228.80" y1="361.90" x2="301.00" y2="361.90" stroke="#000" stroke-width="1.50"/>
<text x="226.50" y="371.90" font-size="4.60">10</text>
<text x="231.70" y="368.90" font-size="4.00">0</text>
<text x="253.00" y="371.90" font-size="4.60">10</text>
<text x="258.20" y="368.90" font-size="4.00">1</text>
<text x="279.50" y="371.90" font-size="4.60">10</text>
<text x="284.70" y="368.90" font-size="4.00">2</text>
<text transform="translate(115.00 94.30) scale(1 1.120)" font-size="5.70" class="sm">MFI</text>
<text transform="translate(68.75 104.70) scale(1 1.120)" font-size="5.70" class="sm">Isotype Control</text>
<text transform="translate(113.50 104.50) scale(1 1.120)" font-size="5.70" class="sm">4.24</text>
<text transform="translate(73.75 118.10) scale(1 1.120)" font-size="5.70" class="sm">P-STAT5</text>
<text transform="translate(112.00 118.10) scale(1 1.120)" font-size="5.70" class="sm">66.43</text>
<text transform="translate(74.50 134.30) scale(1 1.120)" font-size="5.70" class="sm">+Imatinib</text>
<text transform="translate(112.00 134.30) scale(1 1.120)" font-size="5.70" class="sm">49.30</text>
<text transform="translate(213.50 94.10) scale(1 1.120)" font-size="5.70" class="sm">MFI</text>
<text transform="translate(164.75 104.70) scale(1 1.120)" font-size="5.70" class="sm">Isotype Control</text>
<text transform="translate(213.00 104.60) scale(1 1.120)" font-size="5.70" class="sm">1.99</text>
<text transform="translate(172.00 118.10) scale(1 1.120)" font-size="5.70" class="sm">P-STAT5</text>
<text transform="translate(210.60 118.10) scale(1 1.120)" font-size="5.70" class="sm">7.43</text>
<text transform="translate(170.60 134.30) scale(1 1.120)" font-size="5.70" class="sm">+TG101209</text>
<text transform="translate(211.50 134.30) scale(1 1.120)" font-size="5.70" class="sm">6.65</text>
<text transform="translate(323.00 94.10) scale(1 1.120)" font-size="5.70" class="sm">MFI</text>
<text transform="translate(272.00 104.40) scale(1 1.120)" font-size="5.70" class="sm">Isotype Control</text>
<text transform="translate(322.50 104.40) scale(1 1.120)" font-size="5.70" class="sm">1.85</text>
<text transform="translate(277.00 118.10) scale(1 1.120)" font-size="5.70" class="sm">P-STAT5</text>
<text transform="translate(320.00 118.10) scale(1 1.120)" font-size="5.70" class="sm">17.07</text>
<text transform="translate(276.50 134.30) scale(1 1.120)" font-size="5.70" class="sm">+TG101209</text>
<text transform="translate(321.30 134.30) scale(1 1.120)" font-size="5.70" class="sm">8.78</text>
<text transform="translate(115.00 320.00) scale(1 1.120)" font-size="5.70" class="sm">MFI</text>
<text transform="translate(60.25 329.30) scale(1 1.120)" font-size="5.70" class="sm">Isotype Control</text>
<text transform="translate(114.25 329.30) scale(1 1.120)" font-size="5.70" class="sm">3.55</text>
<text transform="translate(69.25 342.80) scale(1 1.120)" font-size="5.70" class="sm">P-STAT5</text>
<text transform="translate(112.75 342.80) scale(1 1.120)" font-size="5.70" class="sm">18.38</text>
<text transform="translate(68.50 357.80) scale(1 1.120)" font-size="5.70" class="sm">+Imatinib</text>
<text transform="translate(112.75 357.80) scale(1 1.120)" font-size="5.70" class="sm">11.67</text>
<text transform="translate(212.00 320.30) scale(1 1.120)" font-size="5.70" class="sm">MFI</text>
<text transform="translate(165.00 329.10) scale(1 1.120)" font-size="5.70" class="sm">Isotype Control</text>
<text transform="translate(211.25 329.10) scale(1 1.120)" font-size="5.70" class="sm">2.12</text>
<text transform="translate(174.75 342.30) scale(1 1.120)" font-size="5.70" class="sm">P-STAT5</text>
<text transform="translate(210.00 342.80) scale(1 1.120)" font-size="5.70" class="sm">8.65</text>
<text transform="translate(170.25 357.60) scale(1 1.120)" font-size="5.70" class="sm">+TG101209</text>
<text transform="translate(209.50 358.00) scale(1 1.120)" font-size="5.70" class="sm">6.53</text>
<text transform="translate(322.00 319.70) scale(1 1.120)" font-size="5.70" class="sm">MFI</text>
<text transform="translate(271.75 328.40) scale(1 1.120)" font-size="5.70" class="sm">Isotype Control</text>
<text transform="translate(322.75 328.40) scale(1 1.120)" font-size="5.70" class="sm">3.8</text>
<text transform="translate(280.00 342.10) scale(1 1.120)" font-size="5.70" class="sm">P-STAT5</text>
<text transform="translate(322.00 343.00) scale(1 1.120)" font-size="5.70" class="sm">6.1</text>
<text transform="translate(274.00 357.10) scale(1 1.120)" font-size="5.70" class="sm">+TG101209</text>
<text transform="translate(321.70 358.00) scale(1 1.120)" font-size="5.70" class="sm">5.0</text>
<text x="390.50" y="21.40" font-size="8.50">CD34- STAT5 Inhibition</text>
<text x="0" y="0" font-size="7.6" text-anchor="middle" transform="translate(350.20 89.40) rotate(-90)">Percent Inhibition</text>
<text x="371.90" y="51.50" font-size="6.60">p = ns</text>
<line x1="370.20" y1="29.90" x2="370.20" y2="138.30" stroke="#000" stroke-width="1.60"/>
<line x1="367.20" y1="137.50" x2="518.20" y2="137.50" stroke="#000" stroke-width="1.60"/>
<line x1="367.00" y1="30.50" x2="370.20" y2="30.50" stroke="#000" stroke-width="1.30"/>
<text transform="translate(363.00 33.90) scale(1 1.060)" font-size="7.90" text-anchor="end">80</text>
<line x1="367.00" y1="57.25" x2="370.20" y2="57.25" stroke="#000" stroke-width="1.30"/>
<text transform="translate(363.00 60.65) scale(1 1.060)" font-size="7.90" text-anchor="end">60</text>
<line x1="367.00" y1="84.00" x2="370.20" y2="84.00" stroke="#000" stroke-width="1.30"/>
<text transform="translate(363.00 87.40) scale(1 1.060)" font-size="7.90" text-anchor="end">40</text>
<line x1="367.00" y1="110.75" x2="370.20" y2="110.75" stroke="#000" stroke-width="1.30"/>
<text transform="translate(363.00 114.15) scale(1 1.060)" font-size="7.90" text-anchor="end">20</text>
<line x1="367.00" y1="137.50" x2="370.20" y2="137.50" stroke="#000" stroke-width="1.30"/>
<text transform="translate(360.60 140.80) scale(1 1.060)" font-size="7.90" text-anchor="end">0</text>
<line x1="385.15" y1="79.90" x2="385.15" y2="98.10" stroke="#000" stroke-width="2.10"/>
<line x1="378.95" y1="79.90" x2="391.35" y2="79.90" stroke="#000" stroke-width="2.10"/>
<rect x="375.05" y="99.15" width="20.20" height="38.35" fill="#fff" stroke="#000" stroke-width="2.10"/>
<line x1="414.75" y1="114.10" x2="414.75" y2="117.80" stroke="#000" stroke-width="2.10"/>
<line x1="408.55" y1="114.10" x2="420.95" y2="114.10" stroke="#000" stroke-width="2.10"/>
<rect x="405.05" y="118.85" width="19.40" height="18.65" fill="url(#hstripe)" stroke="#000" stroke-width="2.10"/>
<line x1="444.15" y1="93.00" x2="444.15" y2="108.10" stroke="#000" stroke-width="2.10"/>
<line x1="437.95" y1="93.00" x2="450.35" y2="93.00" stroke="#000" stroke-width="2.10"/>
<rect x="434.15" y="109.15" width="20.00" height="28.35" fill="url(#dots)" stroke="#000" stroke-width="2.10"/>
<rect x="463.45" y="63.55" width="20.30" height="73.95" fill="url(#hatch)" stroke="#000" stroke-width="2.10"/>
<line x1="502.95" y1="102.60" x2="502.95" y2="112.50" stroke="#000" stroke-width="2.10"/>
<line x1="496.75" y1="102.60" x2="509.15" y2="102.60" stroke="#000" stroke-width="2.10"/>
<rect x="493.15" y="113.55" width="19.60" height="23.95" fill="#000" stroke="#000" stroke-width="2.10"/>
<text transform="translate(368.00 147.80) scale(1 1.120)" font-size="7.40">Normal</text>
<text transform="translate(400.30 147.80) scale(1 1.120)" font-size="7.50">mJAK2</text>
<text transform="translate(402.80 156.70) scale(1 1.120)" font-size="7.40">MPN</text>
<text transform="translate(430.20 147.80) scale(1 1.120)" font-size="7.50">wtJAK2</text>
<text transform="translate(432.40 156.70) scale(1 1.120)" font-size="7.40">MPN</text>
<text transform="translate(463.70 147.80) scale(1 1.120)" font-size="7.40">HEL</text>
<text transform="translate(491.90 147.80) scale(1 1.120)" font-size="7.40">CML</text>
<text transform="translate(491.30 161.00) scale(1 1.120)" font-size="7.60">Imatinib</text>
<text transform="translate(387.30 171.10) scale(1 1.120)" font-size="7.45">TG101209</text>
<text transform="translate(366.90 179.80) scale(1 1.120)" font-size="6.60">n=</text>
<text transform="translate(384.30 179.80) scale(1 1.120)" font-size="6.60">3</text>
<text transform="translate(413.80 179.80) scale(1 1.120)" font-size="6.60">6</text>
<text transform="translate(440.60 179.80) scale(1 1.120)" font-size="6.60">4</text>
<text transform="translate(470.00 179.80) scale(1 1.120)" font-size="6.60">2*</text>
<text transform="translate(500.60 179.80) scale(1 1.120)" font-size="6.60">4</text>
<line x1="367.20" y1="161.10" x2="482.00" y2="161.10" stroke="#000" stroke-width="1.50"/>
<path d="M359.20 161.10 L369.20 158.40 L369.20 163.80 Z" fill="#000"/>
<path d="M490.00 161.10 L480.00 158.40 L480.00 163.80 Z" fill="#000"/>
<text x="385.50" y="248.60" font-size="8.50">CD34+ STAT5 Inhibition</text>
<text x="0" y="0" font-size="7.6" text-anchor="middle" transform="translate(349.80 309.60) rotate(-90)">Percent Inhibition</text>
<text x="371.90" y="265.20" font-size="6.60">p = ns</text>
<line x1="368.20" y1="250.90" x2="368.20" y2="359.70" stroke="#000" stroke-width="1.60"/>
<line x1="365.20" y1="358.90" x2="516.30" y2="358.90" stroke="#000" stroke-width="1.60"/>
<line x1="365.00" y1="251.50" x2="368.20" y2="251.50" stroke="#000" stroke-width="1.30"/>
<text transform="translate(363.20 253.80) scale(1 1.060)" font-size="7.90" text-anchor="end">80</text>
<line x1="365.00" y1="278.35" x2="368.20" y2="278.35" stroke="#000" stroke-width="1.30"/>
<text transform="translate(363.20 280.65) scale(1 1.060)" font-size="7.90" text-anchor="end">60</text>
<line x1="365.00" y1="305.20" x2="368.20" y2="305.20" stroke="#000" stroke-width="1.30"/>
<text transform="translate(363.20 307.50) scale(1 1.060)" font-size="7.90" text-anchor="end">40</text>
<line x1="365.00" y1="332.05" x2="368.20" y2="332.05" stroke="#000" stroke-width="1.30"/>
<text transform="translate(363.20 334.35) scale(1 1.060)" font-size="7.90" text-anchor="end">20</text>
<line x1="365.00" y1="358.90" x2="368.20" y2="358.90" stroke="#000" stroke-width="1.30"/>
<text transform="translate(362.00 360.30) scale(1 1.060)" font-size="7.90" text-anchor="end">0</text>
<line x1="386.60" y1="279.20" x2="386.60" y2="296.20" stroke="#000" stroke-width="2.10"/>
<line x1="379.30" y1="279.20" x2="393.90" y2="279.20" stroke="#000" stroke-width="2.10"/>
<rect x="374.15" y="297.25" width="24.90" height="61.65" fill="#fff" stroke="#000" stroke-width="2.10"/>
<line x1="423.45" y1="317.20" x2="423.45" y2="324.00" stroke="#000" stroke-width="2.10"/>
<line x1="416.15" y1="317.20" x2="430.75" y2="317.20" stroke="#000" stroke-width="2.10"/>
<rect x="411.05" y="325.05" width="24.80" height="33.85" fill="url(#hstripe2)" stroke="#000" stroke-width="2.10"/>
<line x1="460.25" y1="317.70" x2="460.25" y2="327.20" stroke="#000" stroke-width="2.10"/>
<line x1="452.95" y1="317.70" x2="467.55" y2="317.70" stroke="#000" stroke-width="2.10"/>
<rect x="447.95" y="328.25" width="24.60" height="30.65" fill="url(#dots2)" stroke="#000" stroke-width="2.10"/>
<line x1="497.20" y1="299.50" x2="497.20" y2="310.50" stroke="#000" stroke-width="2.10"/>
<line x1="489.90" y1="299.50" x2="504.50" y2="299.50" stroke="#000" stroke-width="2.10"/>
<rect x="484.85" y="311.55" width="24.70" height="47.35" fill="#000" stroke="#000" stroke-width="2.10"/>
<text transform="translate(373.60 367.30) scale(1 1.120)" font-size="7.60">Normal</text>
<text transform="translate(411.70 367.30) scale(1 1.120)" font-size="7.60">mJAK2</text>
<text transform="translate(414.20 376.00) scale(1 1.120)" font-size="7.50">MPN</text>
<text transform="translate(447.90 367.30) scale(1 1.120)" font-size="7.60">wtJAK2</text>
<text transform="translate(451.00 376.00) scale(1 1.120)" font-size="7.50">MPN</text>
<text transform="translate(490.40 369.70) scale(1 1.120)" font-size="7.50">CML</text>
<text transform="translate(486.80 383.00) scale(1 1.120)" font-size="7.70">Imatinib</text>
<text transform="translate(402.90 389.80) scale(1 1.120)" font-size="7.45">TG101209</text>
<text transform="translate(375.40 399.90) scale(1 1.120)" font-size="6.60">n=</text>
<text transform="translate(390.80 399.90) scale(1 1.120)" font-size="6.60">3</text>
<text transform="translate(422.70 399.90) scale(1 1.120)" font-size="6.60">6</text>
<text transform="translate(459.40 399.90) scale(1 1.120)" font-size="6.60">4</text>
<text transform="translate(502.50 399.90) scale(1 1.120)" font-size="6.60">4</text>
<line x1="382.00" y1="380.10" x2="469.00" y2="380.10" stroke="#000" stroke-width="1.50"/>
<path d="M374.00 380.10 L384.00 377.40 L384.00 382.80 Z" fill="#000"/>
<path d="M477.00 380.10 L467.00 377.40 L467.00 382.80 Z" fill="#000"/>
</svg>
</body></html>
